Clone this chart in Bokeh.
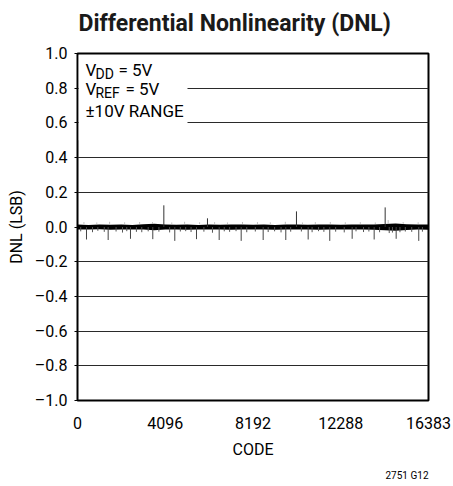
from bokeh.plotting import figure
from bokeh.models import Range1d, FixedTicker, Label, BoxAnnotation, Title
from bokeh.embed import file_html
from bokeh.resources import INLINE

FONT = "Roboto"

# ---- data ----
x_ticks = [0, 4096, 8192, 12288, 16383]
y_ticks = [-1.0, -0.8, -0.6, -0.4, -0.2, 0.0, 0.2, 0.4, 0.6, 0.8, 1.0]
y_tick_labels = ["\u20131.0", "\u20130.8", "\u20130.6", "\u20130.4", "\u20130.2",
                 "0.0", "0.2", "0.4", "0.6", "0.8", "1.0"]

# noise band envelope (code, upper, lower)
band_code = [0, 512, 1024, 1536, 2048, 2560, 3072, 3584, 4096, 4608, 5120,
             5632, 6144, 6656, 7168, 7680, 8192, 8704, 9216, 9728, 10240,
             10752, 11264, 11776, 12288, 12800, 13312, 13824, 14336, 14848,
             15360, 15872, 16383]
band_hi = [0.014, 0.012, 0.015, 0.013, 0.014, 0.012, 0.016, 0.019, 0.015, 0.013, 0.014,
           0.012, 0.015, 0.013, 0.014, 0.015, 0.013, 0.014, 0.012, 0.015, 0.014,
           0.013, 0.015, 0.014, 0.013, 0.014, 0.015, 0.014, 0.017, 0.020,
           0.016, 0.014, 0.015]
band_lo = [-0.014, -0.015, -0.013, -0.016, -0.014, -0.015, -0.014, -0.019, -0.015, -0.014, -0.016,
           -0.014, -0.015, -0.014, -0.016, -0.014, -0.015, -0.014, -0.016, -0.014, -0.015,
           -0.014, -0.016, -0.015, -0.014, -0.015, -0.014, -0.016, -0.019, -0.022,
           -0.017, -0.015, -0.016]

# small negative tails below the band
tail_code = [150, 700, 950, 1250, 1800, 2100, 2300, 2750, 3000, 3300, 3800, 4300,
             4800, 5050, 5300, 5900, 6300, 6850, 7100, 7400, 7900, 8300, 8900, 9200,
             9500, 9950, 10450, 10950, 11250, 11500, 12050, 12450, 13000, 13350,
             13600, 14100, 14550, 14700, 15050, 15300, 15600, 16100]
tail_val = [-0.025, -0.030, -0.022, -0.028, -0.026, -0.032, -0.024, -0.028, -0.030, -0.025,
            -0.027, -0.031, -0.026, -0.024, -0.029, -0.027, -0.033, -0.025, -0.028, -0.024,
            -0.030, -0.026, -0.029, -0.025, -0.031, -0.027, -0.026, -0.030, -0.024, -0.028,
            -0.027, -0.031, -0.025, -0.029, -0.026, -0.030, -0.035, -0.032, -0.030, -0.026,
            -0.028, -0.027]

# faint positive dots above the band
dot_code = [300, 900, 1500, 2200, 2900, 3500, 4400, 5000, 5700, 6400, 7000, 7700,
            8400, 9000, 9700, 10500, 11100, 11800, 12500, 13200, 13900, 14500, 15200, 15900]
dot_val = [0.028, 0.026, 0.030, 0.027, 0.029, 0.028, 0.026, 0.030, 0.027, 0.028, 0.026, 0.029,
           0.028, 0.027, 0.030, 0.026, 0.028, 0.029, 0.027, 0.028, 0.026, 0.040, 0.028, 0.027]

# larger negative spikes (periodic, ~every 1024 codes)
neg_code = [420, 1431, 2473, 3514, 4541, 5554, 6613, 7640, 8666, 9722, 10766,
            11774, 12820, 13847, 14874, 15928]
neg_val = [-0.072, -0.075, -0.068, -0.070, -0.080, -0.070, -0.075, -0.080, -0.075,
           -0.075, -0.072, -0.080, -0.068, -0.072, -0.068, -0.080]

# positive spikes
pos_code = [4030, 6067, 10220, 14360]
pos_val = [0.125, 0.050, 0.090, 0.113]

title_text = "Differential Nonlinearity (DNL)"
x_label = "CODE"
y_label = "DNL (LSB)"
note_text = "2751 G12"

# ---- figure ----
p = figure(width=453, height=486, output_backend="svg", toolbar_location=None,
           x_range=Range1d(0, 16383), y_range=Range1d(-1, 1),
           min_border_left=77, min_border_right=25, min_border_top=53, min_border_bottom=82)
p.background_fill_color = "white"
p.border_fill_color = "white"
p.outline_line_color = "black"
p.outline_line_width = 2
p.outline_line_alpha = 1

p.title = Title(text=title_text, text_font=FONT, text_font_size="23px",
                text_font_style="bold", text_color="#1a1a1a", align="left",
                offset=1, standoff=13, vertical_align="top")
# thin empty spacer between the title and the frame
p.add_layout(Title(text=" ", text_font=FONT, text_font_size="5px", standoff=0), "above")
p.add_layout(Title(text=note_text, text_font=FONT, text_font_size="10px",
                   text_font_style="normal", text_color="black", align="right",
                   standoff=12), "below")

p.xgrid.visible = False
p.ygrid.ticker = FixedTicker(ticks=y_ticks)
p.ygrid.grid_line_color = "#2a2a2a"
p.ygrid.grid_line_width = 1

p.xaxis.ticker = FixedTicker(ticks=x_ticks)
p.yaxis.ticker = FixedTicker(ticks=y_ticks)
p.yaxis.major_label_overrides = {t: s for t, s in zip(y_ticks, y_tick_labels)}
p.xaxis.major_label_overrides = {t: str(t) for t in x_ticks}

for ax in (p.xaxis, p.yaxis):
    ax.axis_line_color = None
    ax.minor_tick_line_color = None
    ax.major_label_text_font = FONT
    ax.major_label_text_font_size = "16px"
    ax.major_label_text_color = "black"
    ax.axis_label_text_font = FONT
    ax.axis_label_text_font_size = "16px"
    ax.axis_label_text_font_style = "normal"
    ax.axis_label_text_color = "black"

p.xaxis.major_tick_line_color = None
p.xaxis.major_label_standoff = 10
p.xaxis.axis_label = x_label
p.xaxis.axis_label_standoff = 8
p.yaxis.major_tick_in = 0
p.yaxis.major_tick_out = 3
p.yaxis.major_tick_line_color = "black"
p.yaxis.major_label_standoff = 7
p.yaxis.axis_label = y_label
p.yaxis.axis_label_standoff = 6

# data marks
p.varea(x=band_code, y1=band_lo, y2=band_hi, fill_color="black")
p.segment(x0=tail_code, y0=[0] * len(tail_code), x1=tail_code, y1=tail_val,
          line_color="#555555", line_width=1)
p.segment(x0=dot_code, y0=[0.018] * len(dot_code), x1=dot_code, y1=dot_val,
          line_color="#bbbbbb", line_width=1)
p.segment(x0=neg_code, y0=[0] * len(neg_code), x1=neg_code, y1=neg_val,
          line_color="#444444", line_width=1)
p.segment(x0=pos_code, y0=[0] * len(pos_code), x1=pos_code, y1=pos_val,
          line_color="#333333", line_width=1)

# white box behind the condition text
p.add_layout(BoxAnnotation(left=60, right=5134, bottom=0.5, top=0.99,
                           fill_color="white", fill_alpha=1, line_color=None))

def lab(x, y, text, size):
    p.add_layout(Label(x=x, y=y, text=text, text_font=FONT, text_font_size=size,
                       text_align="left", text_baseline="middle",
                       text_font_style="normal", text_color="black"))

# condition text (V_DD, V_REF with subscripts)
lab(373, 0.903, "V", "17px")
lab(840, 0.880, "DD", "14px")
lab(1913, 0.903, "= 5V", "17px")
lab(373, 0.795, "V", "17px")
lab(840, 0.772, "REF", "14px")
lab(2240, 0.795, "= 5V", "17px")
lab(373, 0.670, "\u00b110V RANGE", "17px")

open("out.html", "w").write(file_html(p, INLINE))
